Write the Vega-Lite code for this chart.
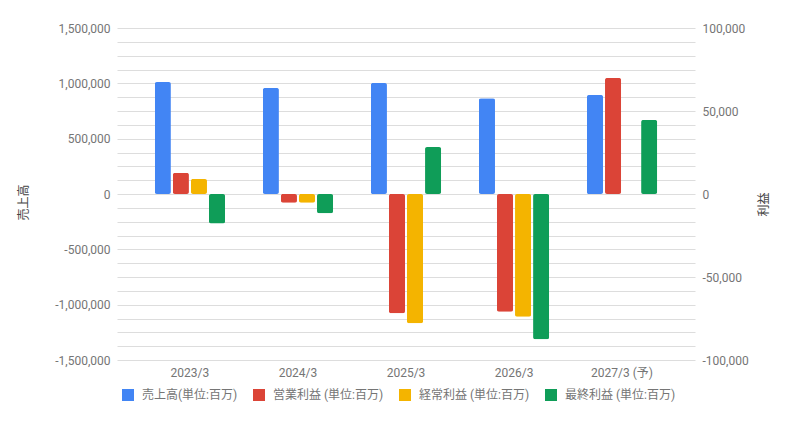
{
  "$schema": "https://vega.github.io/schema/vega-lite/v6.json",
  "width": 578,
  "height": 332,
  "autosize": "none",
  "padding": {"left": 117, "top": 28, "right": 101, "bottom": 66},
  "background": "white",
  "data": {
    "values": [
      {"year": "2023/3", "series": "売上高(単位:百万)", "value": 1012000},
      {"year": "2023/3", "series": "営業利益 (単位:百万)", "value": 12700},
      {"year": "2023/3", "series": "経常利益 (単位:百万)", "value": 9000},
      {"year": "2023/3", "series": "最終利益 (単位:百万)", "value": -17700},
      {"year": "2024/3", "series": "売上高(単位:百万)", "value": 958000},
      {"year": "2024/3", "series": "営業利益 (単位:百万)", "value": -5200},
      {"year": "2024/3", "series": "経常利益 (単位:百万)", "value": -5200},
      {"year": "2024/3", "series": "最終利益 (単位:百万)", "value": -11600},
      {"year": "2025/3", "series": "売上高(単位:百万)", "value": 1003000},
      {"year": "2025/3", "series": "営業利益 (単位:百万)", "value": -71900},
      {"year": "2025/3", "series": "経常利益 (単位:百万)", "value": -77900},
      {"year": "2025/3", "series": "最終利益 (単位:百万)", "value": 28300},
      {"year": "2026/3", "series": "売上高(単位:百万)", "value": 865000},
      {"year": "2026/3", "series": "営業利益 (単位:百万)", "value": -70900},
      {"year": "2026/3", "series": "経常利益 (単位:百万)", "value": -73900},
      {"year": "2026/3", "series": "最終利益 (単位:百万)", "value": -87500},
      {"year": "2027/3 (予)", "series": "売上高(単位:百万)", "value": 895000},
      {"year": "2027/3 (予)", "series": "営業利益 (単位:百万)", "value": 69900},
      {"year": "2027/3 (予)", "series": "最終利益 (単位:百万)", "value": 44600}
    ]
  },
  "encoding": {
    "x": {
      "field": "year",
      "type": "nominal",
      "sort": null,
      "title": null,
      "scale": {"paddingInner": 0.35, "paddingOuter": 0.35},
      "axis": {"labelAngle": 0, "domain": false, "ticks": false, "labelPadding": 7}
    },
    "xOffset": {
      "field": "series",
      "type": "nominal",
      "scale": {
        "domain": ["売上高(単位:百万)", "営業利益 (単位:百万)", "経常利益 (単位:百万)", "最終利益 (単位:百万)"],
        "paddingInner": 0.11,
        "paddingOuter": 0
      }
    },
    "color": {
      "field": "series",
      "type": "nominal",
      "title": null,
      "scale": {
        "domain": ["売上高(単位:百万)", "営業利益 (単位:百万)", "経常利益 (単位:百万)", "最終利益 (単位:百万)"],
        "range": ["#4285f4", "#db4437", "#f4b400", "#0f9d58"]
      },
      "legend": {
        "orient": "none",
        "direction": "horizontal",
        "legendX": 5,
        "legendY": 361,
        "symbolType": "square",
        "symbolSize": 144,
        "symbolStrokeWidth": 0,
        "labelOffset": 8,
        "columnPadding": 15,
        "labelFontSize": 12,
        "labelColor": "#757575"
      }
    }
  },
  "layer": [
    {
      "transform": [{"filter": "datum.series === '売上高(単位:百万)'"}],
      "mark": {"type": "bar", "cornerRadius": 2},
      "encoding": {
        "y": {
          "field": "value",
          "type": "quantitative",
          "title": "売上高",
          "scale": {"domain": [-1500000, 1500000], "nice": false, "zero": false},
          "axis": {
            "orient": "left",
            "values": [-1500000, -1375000, -1250000, -1125000, -1000000, -875000, -750000, -625000, -500000, -375000, -250000, -125000, 0, 125000, 250000, 375000, 500000, 625000, 750000, 875000, 1000000, 1125000, 1250000, 1375000, 1500000],
            "labelExpr": "datum.value % 500000 === 0 ? replace(format(datum.value, ','), '\u2212', '-') : ''",
            "domain": false,
            "ticks": false,
            "grid": true,
            "labelPadding": 7,
            "titleX": -87,
            "titleY": 174,
            "encode": {
              "grid": {
                "update": {
                  "stroke": {"signal": "datum.value === 0 ? '#333333' : (datum.value % 500000 === 0 ? '#cccccc' : '#e6e6e6')"},
                  "strokeWidth": {"signal": "datum.value === 0 ? 1.5 : 1"}
                }
              }
            }
          }
        }
      }
    },
    {
      "transform": [{"filter": "datum.series !== '売上高(単位:百万)'"}],
      "mark": {"type": "bar", "cornerRadius": 2},
      "encoding": {
        "y": {
          "field": "value",
          "type": "quantitative",
          "title": "利益",
          "scale": {"domain": [-100000, 100000], "nice": false, "zero": false},
          "axis": {
            "orient": "right",
            "values": [-100000, -50000, 0, 50000, 100000],
            "labelExpr": "replace(format(datum.value, ','), '\u2212', '-')",
            "domain": false,
            "ticks": false,
            "grid": false,
            "labelPadding": 7,
            "titleAngle": -90,
            "titleX": 75,
            "titleY": 176
          }
        }
      }
    }
  ],
  "resolve": {"scale": {"y": "independent"}},
  "config": {
    "font": "Roboto, Noto Sans CJK JP",
    "view": {"stroke": null},
    "axis": {
      "labelFontSize": 12,
      "labelColor": "#757575",
      "titleFontSize": 12,
      "titleFontWeight": "normal",
      "titleColor": "#444444"
    }
  }
}
